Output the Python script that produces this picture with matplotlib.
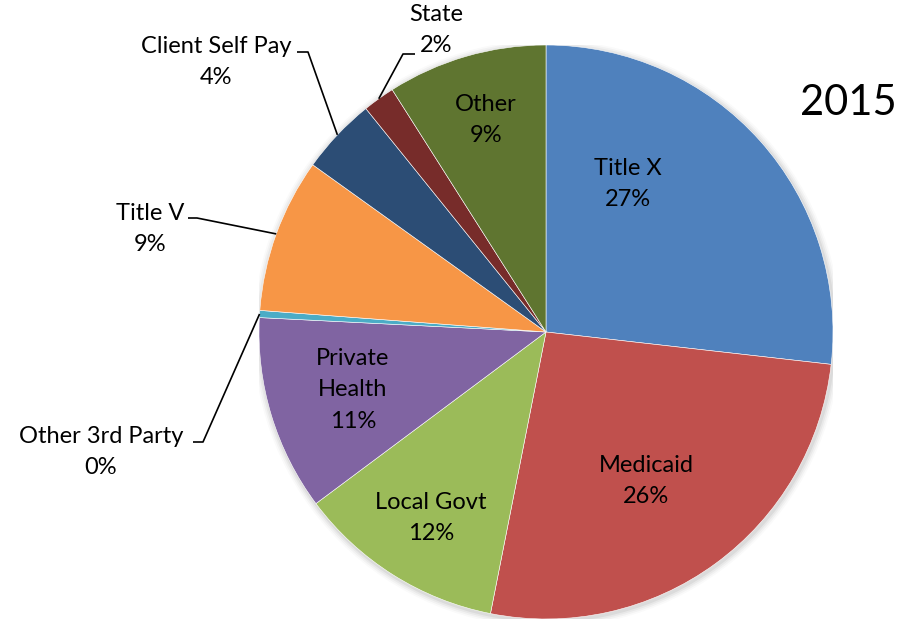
import matplotlib
matplotlib.use("Agg")
import matplotlib.pyplot as plt
import numpy as np

categories = ["Title X", "Medicaid", "Local Govt", "Private\nHealth", "Other 3rd Party",
              "Title V", "Client Self Pay", "State", "Other"]
values = [26.8, 26.3, 11.7, 11.0, 0.4, 8.7, 4.3, 1.8, 9.0]
colors = ["#4F81BD", "#C0504D", "#9BBB59", "#8064A2", "#4BACC6",
          "#F79646", "#2C4D75", "#772C2A", "#5F7530"]
year_label = "2015"

plt.rcParams['font.family'] = ['Lato', 'DejaVu Sans']

W, H = 912, 621
fig = plt.figure(figsize=(W / 100, H / 100), dpi=100)
cx, cy, R = 546, 332, 287
ax = fig.add_axes([(cx - R) / W, (H - cy - R) / H, 2 * R / W, 2 * R / H])
ax.set_xlim(-1, 1)
ax.set_ylim(-1, 1)
ax.set_aspect('equal')
ax.axis('off')

# soft shadow
for i, a in enumerate([0.05, 0.04, 0.03, 0.02]):
    ax.add_patch(plt.Circle((0.004, -0.006), 1.0 + 0.006 * (i + 1), color='#000000', alpha=a, lw=0, zorder=0))

wedges, _ = ax.pie(values, colors=colors, startangle=90, counterclock=False,
                   radius=1.0, wedgeprops=dict(edgecolor='white', linewidth=0.4),
                   frame=False)
ax.set_xlim(-1, 1)
ax.set_ylim(-1, 1)

def px(x, y):
    return ((x - cx) / R, (cy - y) / R)

fs = 17
ls = 1.62
pct = [f"{round(v)}%" for v in values]

# inside labels (pixel positions of label centers)
inside = {0: (628, 184), 1: (646, 481), 2: (431, 518), 3: (353, 390), 8: (486, 120)}
for i, (x, y) in inside.items():
    tx, ty = px(x, y)
    ax.text(tx, ty, categories[i] + "\n" + pct[i], ha='center', va='center',
            fontsize=fs, color='black', linespacing=ls, zorder=5)

# outside labels with leader lines: label center, line start (x,y), knee
outside = {
    4: ((101, 452), (193, 442), (203, 442)),
    5: ((150, 229), (188, 218), (197, 218)),
    6: ((216, 62), (297, 52), (308, 52)),
    7: ((436, 30), (415, 54), (403, 54)),
}
for i, (lab, p0, p1) in outside.items():
    tx, ty = px(*lab)
    ax.text(tx, ty, categories[i] + "\n" + pct[i], ha='center', va='center',
            fontsize=fs, color='black', linespacing=ls, zorder=5)
    w = wedges[i]
    mid = np.deg2rad((w.theta1 + w.theta2) / 2)
    ex, ey = np.cos(mid), np.sin(mid)
    a = px(*p0)
    b = px(*p1)
    ax.plot([a[0], b[0], ex], [a[1], b[1], ey], color='black', lw=1.2,
            solid_capstyle='butt', zorder=4, clip_on=False)

fig.text(848 / W, 1 - 103 / H, year_label, ha='center', va='center', fontsize=30, color='black')

fig.savefig("out.png", dpi=100, facecolor='white')
